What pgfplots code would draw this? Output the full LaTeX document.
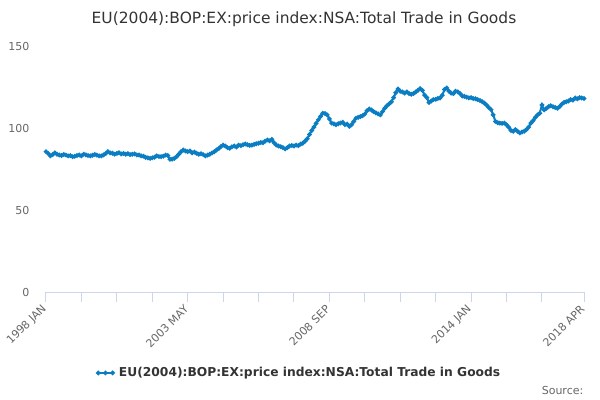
\documentclass[border=0pt]{standalone}
\usepackage{pgfplots}
\pgfplotsset{compat=1.18}
\usepackage{pgfplotstable}
\usepackage{fontspec}
\setmainfont{DejaVu Sans}
\definecolor{serie}{RGB}{10,125,195}
\definecolor{titlec}{RGB}{51,51,51}
\definecolor{tickc}{RGB}{102,102,102}
\definecolor{gridc}{RGB}{230,230,230}
\definecolor{axisc}{RGB}{204,214,235}
\pgfplotstableread{
m v
0 85.6
1 84.5
2 83.0
3 83.8
4 84.9
5 84.0
6 83.5
7 83.2
8 83.8
9 83.5
10 83.0
11 83.2
12 82.5
13 82.8
14 83.2
15 83.5
16 83.0
17 84.0
18 83.6
19 83.2
20 83.0
21 83.4
22 83.8
23 83.5
24 83.0
25 83.0
26 83.6
27 84.5
28 85.6
29 84.8
30 84.6
31 84.0
32 84.5
33 84.9
34 84.2
35 84.5
36 84.0
37 84.4
38 83.8
39 84.0
40 84.2
41 83.6
42 83.5
43 83.0
44 82.8
45 82.1
46 81.8
47 81.5
48 81.8
49 82.2
50 83.0
51 82.6
52 82.5
53 82.8
54 83.5
55 83.2
56 80.9
57 81.0
58 81.5
59 82.5
60 84.0
61 85.5
62 86.6
63 86.0
64 85.6
65 86.0
66 84.9
67 85.3
68 84.6
69 84.0
70 84.3
71 83.8
72 83.0
73 83.5
74 84.0
75 84.8
76 85.5
77 86.6
78 87.5
79 88.6
80 89.6
81 89.0
82 88.0
83 87.6
84 88.5
85 89.0
86 88.4
87 89.6
88 89.2
89 89.8
90 90.2
91 89.8
92 89.4
93 89.6
94 90.0
95 90.4
96 90.7
97 91.2
98 91.0
99 92.0
100 92.7
101 92.2
102 93.1
103 91.0
104 89.6
105 89.0
106 88.6
107 88.0
108 87.2
109 88.0
110 89.0
111 89.3
112 89.0
113 89.6
114 89.2
115 90.2
116 90.7
117 92.0
118 93.5
119 96.0
120 98.5
121 100.5
122 102.8
123 105.0
124 107.0
125 109.0
126 108.8
127 108.0
128 105.5
129 103.0
130 102.5
131 102.0
132 102.6
133 103.0
134 103.5
135 102.0
136 102.4
137 101.0
138 102.0
139 104.0
140 106.0
141 106.5
142 107.0
143 107.5
144 108.5
145 110.5
146 111.6
147 111.0
148 110.0
149 109.2
150 108.6
151 108.0
152 110.0
153 112.0
154 113.5
155 114.8
156 116.0
157 118.5
158 121.5
159 123.8
160 122.4
161 122.0
162 121.3
163 122.0
164 121.0
165 120.6
166 121.0
167 122.0
168 123.0
169 124.0
170 123.0
171 120.0
172 118.5
173 115.6
174 116.5
175 117.3
176 117.5
177 118.0
178 118.3
179 120.0
180 123.5
181 124.4
182 122.5
183 121.3
184 121.0
185 122.4
186 122.0
187 121.0
188 119.5
189 119.3
190 118.8
191 118.3
192 118.5
193 118.0
194 117.8
195 117.3
196 116.8
197 116.0
198 115.2
199 114.0
200 112.5
201 111.2
202 108.0
203 104.0
204 103.2
205 103.0
206 102.8
207 103.0
208 102.0
209 100.5
210 98.5
211 98.0
212 99.0
213 98.0
214 97.0
215 97.5
216 98.0
217 99.0
218 100.5
219 103.0
220 104.5
221 106.5
222 108.0
223 109.0
224 114.0
225 111.0
226 112.0
227 113.0
228 113.6
229 113.0
230 112.5
231 112.0
232 113.0
233 114.5
234 115.6
235 116.0
236 116.5
237 117.3
238 117.0
239 118.3
240 117.8
241 118.5
242 118.3
243 118.0
}\datatable
\begin{document}
\begin{tikzpicture}
\useasboundingbox (0,0) rectangle (450pt,300pt);
\begin{axis}[
  scale only axis,
  width=403.5pt, height=184.5pt,
  at={(34.5pt,81pt)}, anchor=south west,
  xmin=0, xmax=243, ymin=0, ymax=150,
  axis x line*=bottom,
  axis y line=none,
  ytick={0,50,100,150},
  ymajorgrids,
  major grid style={gridc, line width=0.75pt},
  xtick={0,16,32,48,64,80,96,112,128,144,160,176,192,208,224,243},
  xticklabels=\empty,
  extra x ticks={0,64,128,192,243},
  extra x tick labels={1998 JAN,2003 MAY,2008 SEP,2014 JAN,2018 APR},
  extra x tick style={major tick length=7.5pt, tick style={axisc, line width=0.75pt},
    x tick label style={rotate=45, anchor=east, font=\fontsize{8.25}{9}\selectfont, text=tickc, yshift=-2pt}},
  x axis line style={axisc, line width=0.75pt, -},
  xtick style={axisc, line width=0.75pt},
  major tick length=7.5pt,
  tick align=outside,
  /pgf/number format/assume math mode=true,
  legend style={at={(0.472,-0.329)}, anchor=center, draw=none, fill=none,
    font=\bfseries\fontsize{9.2}{11}\selectfont, text=titlec},
  legend image code/.code={\draw[#1] plot coordinates {(0cm,0cm) (0.19cm,0cm) (0.38cm,0cm)}; \path (0.45cm,0cm);},
]
\addplot[serie, line width=1.5pt, mark=*, mark size=0.9pt, mark options={serie}] table[x=m,y=v] {\datatable};
\addlegendentry{EU(2004):BOP:EX:price index:NSA:Total Trade in Goods}
\end{axis}
\begin{axis}[
  scale only axis,
  width=403.5pt, height=184.5pt,
  at={(34.5pt,81pt)}, anchor=south west,
  xmin=0, xmax=243, ymin=0, ymax=150,
  axis x line=none,
  axis y line*=left,
  y axis line style={draw=none},
  ytick={0,50,100,150},
  ytick style={draw=none},
  yticklabel style={font=\fontsize{8.25}{9}\selectfont, text=tickc, xshift=-9pt},
  /pgf/number format/assume math mode=true,
]
\end{axis}
\node[text=titlec, font=\fontsize{11.6}{14}\selectfont] at (228pt,285.5pt) {EU(2004):BOP:EX:price index:NSA:Total Trade in Goods};
\node[text=tickc, font=\fontsize{8.25}{9}\selectfont, anchor=east] at (441pt,7.5pt) {Source:};
\end{tikzpicture}
\end{document}
